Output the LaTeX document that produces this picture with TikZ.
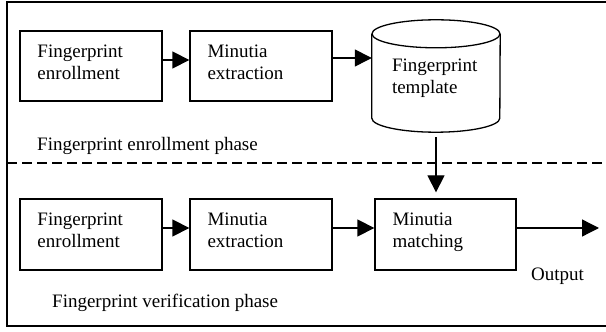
\documentclass[tikz,border=0pt]{standalone}
\usepackage{fontspec}
\setmainfont{Liberation Serif}
\usetikzlibrary{arrows.meta}
\begin{document}
\begin{tikzpicture}[x=1pt,y=1pt,
  every node/.style={font=\fontsize{19}{22}\selectfont},
  stagebox/.style={draw, line width=1.3pt, rectangle, minimum width=142pt,
    minimum height=70pt, inner xsep=17.5pt, inner ysep=0pt, text width=107pt,
    align=left, text height=13pt, text depth=30pt},
  flow/.style={line width=1.3pt, -{Triangle[length=17pt,width=17pt]}},
  caption/.style={anchor=base west, inner sep=0pt},
]
\useasboundingbox (0,0) rectangle (606,332);
\clip (0,0) rectangle (606,332);

% outer frame (open on the right) and phase separator
\draw[line width=1.8pt] (612,330) -- (7,330) -- (7,6) -- (612,6);
\draw[line width=1.5pt, dash pattern=on 10pt off 5pt] (7,169) -- (612,169);

% enrollment phase
\node[stagebox] (enr1) at (91,266) {Fingerprint\\enrollment};
\node[stagebox] (ext1) at (261,266) {Minutia\\extraction};
\node[inner xsep=20pt, inner ysep=0pt, text width=88pt, align=left,
      minimum width=128pt, minimum height=112pt, text height=13pt,
      text depth=21pt] (tpl) at (436,256) {Fingerprint\\template};
% template store drawn as a cylinder around its node
\draw[line width=1.3pt] ([yshift=-14pt]tpl.north west) -- ([yshift=14pt]tpl.south west)
  arc[start angle=180, end angle=360, x radius=64pt, y radius=14pt]
  -- ([yshift=-14pt]tpl.north east);
\draw[line width=1.3pt] ([yshift=-14pt]tpl.north) ellipse[x radius=64pt, y radius=14pt];
\node[caption] (ph1) at (37,181) {Fingerprint enrollment phase};

% verification phase
\node[stagebox, minimum height=71pt] (enr2) at (91,97.5) {Fingerprint\\enrollment};
\node[stagebox, minimum height=71pt] (ext2) at (261,97.5) {Minutia\\extraction};
\node[stagebox, minimum height=71pt, minimum width=141pt, text width=106pt]
  (match) at (445.5,97.5) {Minutia\\matching};
\node[caption] (outlbl) at (531,51) {Output};
\node[caption] (ph2) at (52,24) {Fingerprint verification phase};
\coordinate (outend) at (599,104);

% connectors
\draw[flow] ([yshift=6pt]enr1.east) -- ([yshift=6pt]ext1.west);
\draw[flow] ([yshift=8pt]ext1.east) -- ([yshift=18pt]tpl.west);
\draw[flow] ([yshift=6.5pt]enr2.east) -- ([yshift=6.5pt]ext2.west);
\draw[flow] ([yshift=6.5pt]ext2.east) -- ([yshift=6.5pt]match.west);
\draw[flow] ([yshift=6.5pt]match.east) -- (outend);
\draw[flow, shorten <=5pt, shorten >=6pt] (tpl.south) -- (tpl.south |- match.north);
\end{tikzpicture}
\end{document}
